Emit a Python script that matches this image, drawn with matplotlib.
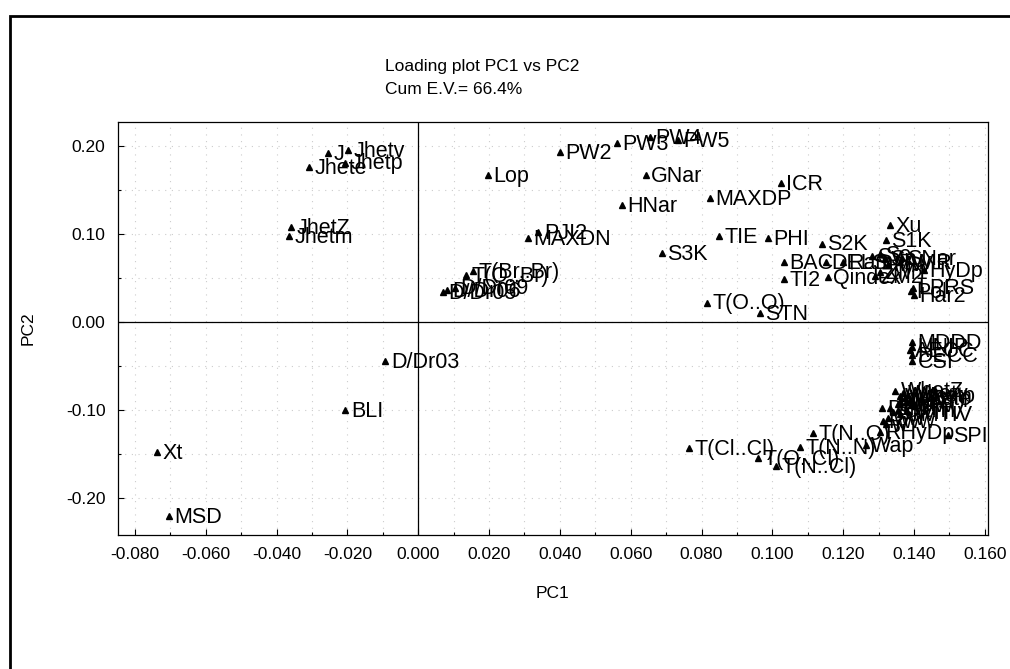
import matplotlib
matplotlib.use("Agg")
import matplotlib.pyplot as plt
from matplotlib.patches import Rectangle
from matplotlib.ticker import MultipleLocator, FormatStrFormatter

plt.rcParams['font.family'] = ['Liberation Sans', 'DejaVu Sans']

# descriptor loadings on the first two components
names = [
    "J", "Jhetv", "Jhetp", "Jhete", "JhetZ", "Jhetm", "Lop",
    "PW2", "PW3", "PW4", "PW5", "GNar", "HNar", "MAXDP", "ICR",
    "PJI2", "MAXDN", "TIE", "PHI", "S3K", "BAC", "TI2", "T(O..O)", "STN",
    "S2K", "Qindex", "Xu", "S1K", "DELS", "Ram", "Sv", "Se", "Sp", "MW",
    "AMR", "SNar", "ZM1", "ZM2", "HyDp", "LPRS", "Pol", "Har2",
    "T(O..Br)", "T(Br..Br)", "D/Dr05", "D/Dr06", "D/Dr09",
    "D/Dr03", "BLI", "Xt", "MSD",
    "T(Cl..Cl)", "T(O..Cl)", "T(N..Cl)", "T(N..N)", "T(N..O)",
    "Wap", "RHyDp", "SPI",
    "MDDD", "UNIP", "AECC", "DECC", "CSI",
    "WhetZ", "Whetm", "Whetv", "Whete", "Whetp", "W", "WA", "Har", "QW", "TI",
    "GMTI", "GMTIV", "SMTI", "SMTIV", "Dz", "Rww", "ww", "w",
]
pc1 = [
    -0.0254, -0.0198, -0.0206, -0.0309, -0.0359, -0.0365, 0.0197,
    0.0400, 0.0561, 0.0654, 0.0733, 0.0642, 0.0575, 0.0823, 0.1024,
    0.0339, 0.0310, 0.0849, 0.0987, 0.0688, 0.1032, 0.1032, 0.0815, 0.0965,
    0.1140, 0.1157, 0.1331, 0.1321, 0.1151, 0.1199, 0.1281, 0.1303, 0.1318, 0.1326,
    0.1360, 0.1366, 0.1303, 0.1289, 0.1428, 0.1397, 0.1391, 0.1400,
    0.0135, 0.0155, 0.0070, 0.0081, 0.0103,
    -0.0093, -0.0206, -0.0737, -0.0704,
    0.0765, 0.0959, 0.1010, 0.1078, 0.1114,
    0.1264, 0.1304, 0.1495,
    0.1394, 0.1394, 0.1388, 0.1394, 0.1394,
    0.1346, 0.1360, 0.1368, 0.1374, 0.1383, 0.1388, 0.1377, 0.1354, 0.1394, 0.1360,
    0.1354, 0.1360, 0.1332, 0.1340, 0.1309, 0.1312, 0.1326, 0.1320,
]
pc2 = [
    0.192, 0.195, 0.181, 0.176, 0.108, 0.098, 0.167,
    0.193, 0.203, 0.210, 0.207, 0.167, 0.133, 0.141, 0.158,
    0.102, 0.095, 0.098, 0.095, 0.078, 0.068, 0.049, 0.022, 0.010,
    0.089, 0.051, 0.110, 0.093, 0.068, 0.068, 0.075, 0.077, 0.073, 0.066,
    0.068, 0.073, 0.057, 0.052, 0.059, 0.039, 0.035, 0.030,
    0.053, 0.058, 0.034, 0.036, 0.039,
    -0.044, -0.100, -0.148, -0.220,
    -0.143, -0.155, -0.164, -0.142, -0.126,
    -0.140, -0.125, -0.128,
    -0.023, -0.028, -0.032, -0.038, -0.044,
    -0.078, -0.084, -0.081, -0.086, -0.083, -0.089, -0.091, -0.093, -0.094, -0.090,
    -0.100, -0.105, -0.098, -0.102, -0.098, -0.113, -0.109, -0.116,
]

fig = plt.figure(figsize=(10.1, 6.69), dpi=100)
ax = fig.add_axes([0.1168, 0.2003, 0.8614, 0.6173])

# dotted grid on minor positions
ax.xaxis.set_major_locator(MultipleLocator(0.02))
ax.xaxis.set_minor_locator(MultipleLocator(0.01))
ax.yaxis.set_major_locator(MultipleLocator(0.10))
ax.yaxis.set_minor_locator(MultipleLocator(0.05))
ax.xaxis.set_major_formatter(FormatStrFormatter('%.3f'))
ax.yaxis.set_major_formatter(FormatStrFormatter('%.2f'))
ax.grid(which='both', color='#cccccc', linestyle=(0, (1, 5)), linewidth=0.8)
ax.set_axisbelow(True)

ax.axhline(0, color='black', linewidth=0.9, zorder=1)
ax.axvline(0, color='black', linewidth=0.9, zorder=1)

ax.plot(pc1, pc2, linestyle='none', marker='^', markersize=4,
        color='black', zorder=3)
for name, x, y in zip(names, pc1, pc2):
    ax.annotate(name, (x, y), xytext=(4, -1), textcoords='offset points',
                fontsize=15.5, va='center', ha='left', zorder=4)

ax.set_xlim(-0.0848, 0.1609)
ax.set_ylim(-0.242, 0.227)
ax.tick_params(which='major', direction='in', length=4, width=0.8,
               labelsize=12.5, pad=9)
ax.tick_params(which='minor', direction='in', length=2.5, width=0.8)
for sp in ax.spines.values():
    sp.set_linewidth(0.9)

ax.set_xlabel("PC1", fontsize=12.5, labelpad=17)
ax.set_ylabel("PC2", fontsize=12.5, labelpad=22)

fig.text(385 / 1010, 1 - 66 / 669, "Loading plot PC1 vs PC2",
         fontsize=12.5, va='center', ha='left')
fig.text(385 / 1010, 1 - 90 / 669, "Cum E.V.= 66.4%",
         fontsize=12.5, va='center', ha='left')

# outer frame
fig.patches.append(Rectangle((10 / 1010, -0.1), 1.2, 1.1 - 16 / 669,
                             transform=fig.transFigure, fill=False,
                             edgecolor='black', linewidth=2))

fig.savefig("out.png", dpi=100)
